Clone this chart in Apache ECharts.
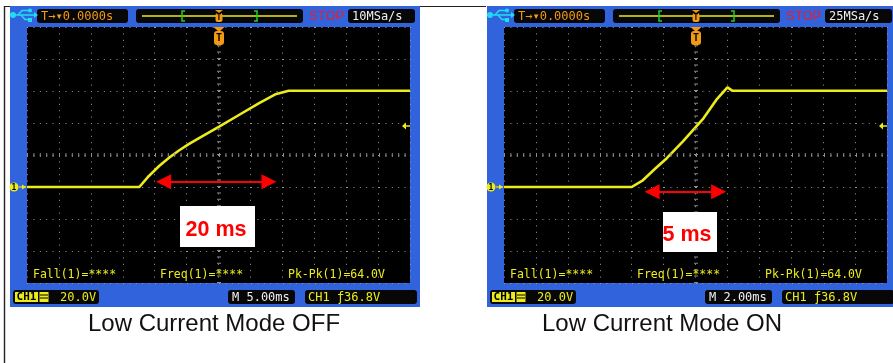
<!DOCTYPE html>
<html><head><meta charset="utf-8">
<script src="https://cdn.jsdelivr.net/npm/echarts@6/dist/echarts.min.js"></script>
<style>html,body{margin:0;padding:0;background:#fff}#c{width:893px;height:363px}</style>
</head><body><div id="c"></div>
<script>
// ---------- data (time in ms, voltage in V) ----------
const timeOff = [-30, -12.4, -10.9, -9.3, -7.7, -6.2, -4.6, -3.05, 0.1, 3.2, 6.3, 8.9, 11.0, 30];
const voltOff = [0, 0, 6.9, 13.1, 18.4, 22.8, 26.9, 30.6, 37.7, 45.0, 52.3, 57.9, 60.2, 60.2];
const timeOn = [-12, -4.0, -3.3, -2.5, -1.8, -0.8, 0.5, 1.3, 2.0, 2.3, 12];
const voltOn = [0, 0, 4.2, 11.7, 18.0, 28.3, 42.9, 54.4, 62.3, 60.2, 60.2];
// annotation arrows: [start ms, end ms, level V]
const arrowOff = [-8.6, 7.9, 3.3];
const arrowOn = [-2.72, 1.45, -2.9];
const boxLabels = ['20 ms', '5 ms'];
const captions = ['Low Current Mode OFF', 'Low Current Mode ON'];
const timebase = ['M 5.00ms', 'M 2.00ms'];
const sampleRate = ['10MSa/s', '25MSa/s'];
const measurements = ['Fall(1)=****', 'Freq(1)=****', 'Pk-Pk(1)=64.0V'];
const trigPos = 'T\u2192\u25BE0.0000s';
const vDiv = '20.0V';
const trigText = 'CH1 \u019236.8V';
const xMinOff = -30, xMaxOff = 30, xIntOff = 5;
const xMinOn = -12, xMaxOn = 12, xIntOn = 2;
const yMin = -60, yMax = 100, yInt = 20, yCenter = 20;

const BLUE = '#3163dc', YEL = '#ecec1c', ORANGE = '#f29a12', CYAN = '#22dcf2', BOX = '#070707';
const MONO = '"DejaVu Sans Mono", monospace';

function zip(a, b) { return a.map((v, i) => [v, b[i]]); }

function axesFor(min, max, interval, idx) {
  return {
    x: { type: 'value', gridIndex: idx, min: min, max: max, interval: interval,
      axisLine: { show: false }, axisTick: { show: false }, axisLabel: { show: false },
      splitLine: { show: true, lineStyle: { color: '#9a9a9a', width: 1, type: [1, 5.4] } } },
    y: { type: 'value', gridIndex: idx, min: yMin, max: yMax, interval: yInt,
      axisLine: { show: false }, axisTick: { show: false }, axisLabel: { show: false },
      splitLine: { show: true, lineStyle: { color: '#9a9a9a', width: 1, type: [1, 5.4] } } }
  };
}
const aOff = axesFor(xMinOff, xMaxOff, xIntOff, 0);
const aOn = axesFor(xMinOn, xMaxOn, xIntOn, 1);

function centerSeries(idx, data) {
  return {
    type: 'line', xAxisIndex: idx, yAxisIndex: idx, data: data, silent: true,
    showSymbol: false, lineStyle: { opacity: 0 }, z: 1,
    markLine: {
      silent: true, animation: false, symbol: 'none', label: { show: false },
      lineStyle: { color: '#8c8c8c', width: 4, type: [1, 5.4] },
      emphasis: { disabled: true },
      data: [{ xAxis: 0 }, { yAxis: yCenter }]
    }
  };
}
function traceSeries(idx, data, arr) {
  return {
    type: 'line', xAxisIndex: idx, yAxisIndex: idx, data: data, silent: true,
    showSymbol: false, z: 3,
    lineStyle: { color: YEL, width: 2.6 },
    markLine: {
      silent: true, animation: false, label: { show: false },
      emphasis: { disabled: true },
      data: [[
        { coord: [arr[0], arr[2]], symbol: 'triangle', symbolSize: [15, 15] },
        { coord: [arr[1], arr[2]], symbol: 'triangle', symbolSize: [15, 15] }
      ]],
      lineStyle: { color: '#ff0000', width: 2, type: 'solid' }
    }
  };
}

function rect(x, y, w, h, fill, r, z) {
  return { type: 'rect', shape: { x: x, y: y, width: w, height: h, r: r || 0 }, style: { fill: fill }, z: z == null ? 5 : z, silent: true };
}
function txt(x, y, s, fill, size, family, weight, align, z) {
  return { type: 'text', x: x, y: y, z: z == null ? 6 : z, silent: true,
    style: { text: s, fill: fill, fontSize: size, fontFamily: family || MONO, fontWeight: weight || 'normal',
      align: align || 'left', verticalAlign: 'middle' } };
}
function line(x1, y1, x2, y2, stroke, w, z) {
  return { type: 'line', shape: { x1: x1, y1: y1, x2: x2, y2: y2 }, style: { stroke: stroke, lineWidth: w }, z: z == null ? 6 : z, silent: true };
}
function poly(points, fill, z) {
  return { type: 'polygon', shape: { points: points }, style: { fill: fill }, z: z == null ? 6 : z, silent: true };
}
function circ(cx, cy, r, fill, z) {
  return { type: 'circle', shape: { cx: cx, cy: cy, r: r }, style: { fill: fill }, z: z == null ? 6 : z, silent: true };
}

function panel(dx, i) {
  const g = [];
  g.push(rect(10 + dx, 6, 410, 301, BLUE, 0, -5));
  // usb icon
  g.push(circ(13 + dx, 15, 3, CYAN));
  g.push(line(13 + dx, 15, 34 + dx, 15, CYAN, 1.5));
  g.push({ type: 'polyline', shape: { points: [[18 + dx, 15], [22 + dx, 10.5], [29 + dx, 10.5]] }, style: { stroke: CYAN, lineWidth: 1.5, fill: null }, z: 6, silent: true });
  g.push(circ(30 + dx, 10.5, 2, CYAN));
  g.push({ type: 'polyline', shape: { points: [[21 + dx, 15], [25 + dx, 19.5], [29 + dx, 19.5]] }, style: { stroke: CYAN, lineWidth: 1.5, fill: null }, z: 6, silent: true });
  g.push(rect(28 + dx, 18, 4, 4, CYAN, 0, 6));
  g.push(poly([[34 + dx, 12], [38 + dx, 15], [34 + dx, 18]], CYAN));
  // trigger position box
  g.push(rect(37 + dx, 9, 91, 14, BOX, 3));
  g.push(txt(41 + dx, 16.5, trigPos, ORANGE, 12, MONO));
  // memory bar
  g.push(rect(136 + dx, 9, 167, 14, BOX, 3));
  g.push(line(142 + dx, 16, 297 + dx, 16, YEL, 1.5));
  g.push({ type: 'polyline', shape: { points: [[185 + dx, 11], [182 + dx, 11], [182 + dx, 21], [185 + dx, 21]] }, style: { stroke: '#1ed21e', lineWidth: 1.5, fill: null }, z: 7, silent: true });
  g.push({ type: 'polyline', shape: { points: [[254 + dx, 11], [257 + dx, 11], [257 + dx, 21], [254 + dx, 21]] }, style: { stroke: '#1ed21e', lineWidth: 1.5, fill: null }, z: 7, silent: true });
  g.push(poly([[215 + dx, 10], [223 + dx, 10], [219 + dx, 13]], ORANGE, 7));
  g.push(rect(215.5 + dx, 13, 7, 9, ORANGE, 2, 7));
  g.push(txt(219 + dx, 17.5, 'T', '#000', 8, MONO, 'bold', 'center', 8));
  // STOP & rate
  g.push(txt(309 + dx, 16.5, 'STOP', '#e81e2a', 13, '"Liberation Sans", Arial, sans-serif'));
  g.push(rect(348 + dx, 9, 67, 14, BOX, 3));
  g.push(txt(352 + dx, 16.5, sampleRate[i], '#f0f0f0', 12, MONO));
  // trigger marker at grid top
  g.push(poly([[213.5 + dx, 27], [224.5 + dx, 27], [219 + dx, 32]], ORANGE, 7));
  g.push(rect(214 + dx, 31, 10, 14, ORANGE, 3, 7));
  g.push(txt(219 + dx, 38.5, 'T', '#000', 10, MONO, 'bold', 'center', 8));
  // ground marker
  g.push(circ(14 + dx, 187, 4.5, YEL, 7));
  g.push(txt(14 + dx, 187.5, '1', '#000', 8, MONO, 'bold', 'center', 8));
  g.push(line(19 + dx, 187, 26 + dx, 187, YEL, 1.2, 7));
  g.push(poly([[22 + dx, 184.5], [26 + dx, 187], [22 + dx, 189.5]], YEL, 7));
  // trigger level marker on right
  g.push(poly([[402 + dx, 126], [406 + dx, 122.5], [406 + dx, 129.5]], YEL, 7));
  g.push(line(405 + dx, 126, 410 + dx, 126, YEL, 1.5, 7));
  // measurements
  const mx = [33, 160, 288];
  measurements.forEach((m, k) => g.push(txt(mx[k] + dx, 275.5, m, YEL, 11.5, MONO)));
  // bottom bar
  g.push(rect(13 + dx, 290, 86, 14, BOX, 3));
  g.push(rect(15 + dx, 292, 23, 10, YEL, 0, 6));
  g.push(txt(26.5 + dx, 297.5, 'CH1', '#000', 11, MONO, 'bold', 'center', 7));
  g.push(rect(39.5 + dx, 292, 9, 10, YEL, 0, 6));
  g.push(line(40 + dx, 295, 48 + dx, 295, '#000', 1, 7));
  g.push(line(40 + dx, 298, 48 + dx, 298, '#000', 1, 7));
  g.push(txt(60 + dx, 297.5, vDiv, YEL, 12, MONO));
  g.push(rect(228 + dx, 290, 67, 14, BOX, 3));
  g.push(txt(232 + dx, 297.5, timebase[i], '#f0f0f0', 12, MONO));
  g.push(rect(305 + dx, 290, 112, 14, BOX, 3));
  g.push(txt(308 + dx, 297.5, trigText, YEL, 12, MONO));
  return g;
}

const graphics = [];
graphics.push(line(420, 6.5, 486, 6.5, '#222', 1, -6));
graphics.push(line(4, 6.5, 10, 6.5, '#222', 1, -6));
graphics.push(line(4.5, 6, 4.5, 363, '#222', 1.4, -6));
graphics.push(...panel(0, 0));
graphics.push(...panel(477, 1));
// annotation boxes
graphics.push(rect(180, 206, 75, 41, '#ffffff', 0, 10));
graphics.push(txt(216, 230, boxLabels[0], '#ff0000', 21.5, '"Liberation Sans", Arial, sans-serif', 'bold', 'center', 11));
graphics.push(rect(663, 212, 54, 40, '#ffffff', 0, 10));
graphics.push(txt(687, 235.5, boxLabels[1], '#ff0000', 21.5, '"Liberation Sans", Arial, sans-serif', 'bold', 'center', 11));
// captions
graphics.push(txt(214, 324, captions[0], '#111', 24, '"Liberation Sans", Arial, sans-serif', 'normal', 'center', 10));
graphics.push(txt(662, 324, captions[1], '#111', 24, '"Liberation Sans", Arial, sans-serif', 'normal', 'center', 10));

const chart = echarts.init(document.getElementById('c'), null, { renderer: 'canvas' });
chart.setOption({
  backgroundColor: '#ffffff',
  animation: false,
  grid: [
    { left: 27, top: 27, width: 383, height: 256, show: true, backgroundColor: '#000', borderWidth: 0 },
    { left: 504, top: 27, width: 383, height: 256, show: true, backgroundColor: '#000', borderWidth: 0 }
  ],
  xAxis: [aOff.x, aOn.x],
  yAxis: [aOff.y, aOn.y],
  series: [
    centerSeries(0, zip(timeOff, voltOff)),
    traceSeries(0, zip(timeOff, voltOff), arrowOff),
    centerSeries(1, zip(timeOn, voltOn)),
    traceSeries(1, zip(timeOn, voltOn), arrowOn)
  ],
  graphic: { elements: graphics }
});
</script></body></html>
